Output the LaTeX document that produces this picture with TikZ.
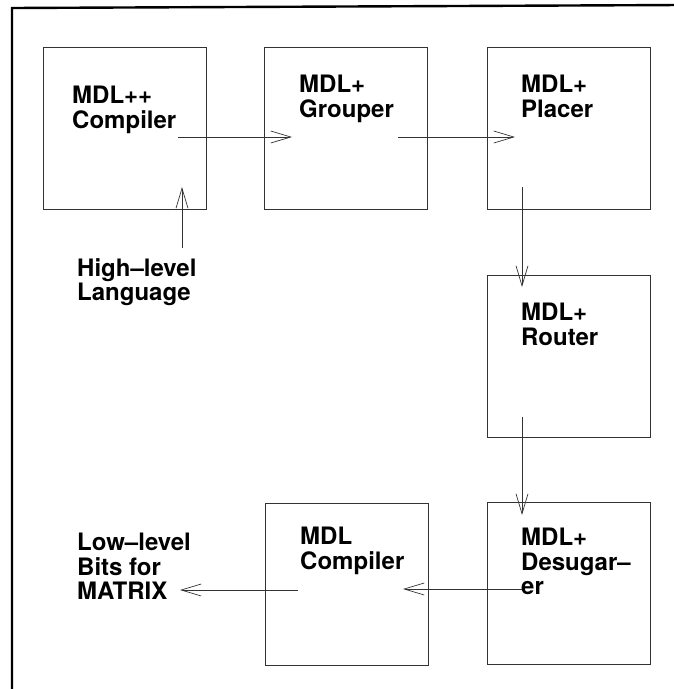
\documentclass[tikz,border=0pt]{standalone}
\usepackage{fontspec}
\setmainfont{TeX Gyre Heros}
\usetikzlibrary{arrows.meta}
\begin{document}
\begin{tikzpicture}[x=1pt,y=-1pt,
  box/.style={draw=black!80,line width=0.8pt,minimum width=163pt,minimum height=162pt,inner sep=0pt,anchor=north west},
  lbl/.style={anchor=north west,inner sep=0pt,align=left,font=\fontsize{24}{24.5}\selectfont\bfseries},
  flow/.style={draw=black!80,line width=0.7pt,-{Straight Barb[length=20pt,width=12pt,line width=0.7pt]}},
  frame/.style={line width=2.4pt}]
\useasboundingbox (0,0) rectangle (673,689);
% frame (top and left only)
\draw[frame] (12,695) -- (12,8) -- (680,5);
% boxes
\node[box] (b1) at (43,47) {};
\node[box] (b2) at (264,47) {};
\node[box] (b3) at (487,47) {};
\node[box] (b4) at (487,275) {};
\node[box] (b5) at (487,502) {};
\node[box] (b6) at (265,503) {};
% labels
\node[lbl] (t1) at (72,86) {MDL++\\Compiler};
\node[lbl] (t2) at (299,75) {MDL+\\Grouper};
\node[lbl] (t3) at (521,75) {MDL+\\Placer};
\node[lbl] (t4) at (521,303) {MDL+\\Router};
\node[lbl] (t5) at (521,528) {MDL+\\Desugar–\\er};
\node[lbl] (t6) at (300,527) {MDL\\Compiler};
\node[lbl] (hl) at (77,258) {High–level\\Language};
\node[lbl] (ll) at (77,533) {Low–level\\Bits for\\MATRIX};
% connector end points
\coordinate (h0) at (182,248);
\coordinate (h1) at (182,187);
\coordinate (c0) at (178,137);
\coordinate (c1) at (292,137);
\coordinate (g0) at (398,137);
\coordinate (g1) at (515,137);
\coordinate (p0) at (522,187);
\coordinate (p1) at (522,287);
\coordinate (r0) at (522,417);
\coordinate (r1) at (522,515);
\coordinate (d0) at (522,589);
\coordinate (d1) at (403,589);
\coordinate (m0) at (298,590);
\coordinate (m1) at (180,590);
% connectors
\draw[flow] (h0) -- (h1);
\draw[flow] (c0) -- (c1);
\draw[flow] (g0) -- (g1);
\draw[flow] (p0) -- (p1);
\draw[flow] (r0) -- (r1);
\draw[flow] (d0) -- (d1);
\draw[flow] (m0) -- (m1);
\end{tikzpicture}
\end{document}
